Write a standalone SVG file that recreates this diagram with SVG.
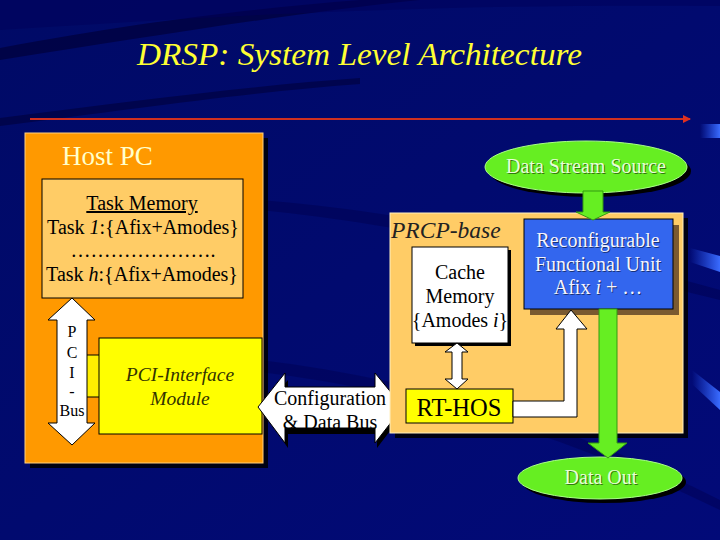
<svg xmlns="http://www.w3.org/2000/svg" width="720" height="540" viewBox="0 0 720 540" font-family="'Liberation Serif', 'DejaVu Serif', serif">
<style>
text{font-family:'Liberation Serif','DejaVu Serif',serif;}
.dark{fill:#000000;}
.sh{fill:#000000;opacity:0.85;}
.box{stroke:#000;stroke-width:1;}
.wa{fill:#ffffff;stroke:#000;stroke-width:1;}
.ga{fill:#66ee22;stroke:#339911;stroke-width:1;}
</style>
<defs>
<linearGradient id="bg" x1="0" y1="0" x2="1" y2="1">
<stop offset="0" stop-color="#000a66"/>
<stop offset="1" stop-color="#020a78"/>
</linearGradient>
<linearGradient id="stripe" x1="0" y1="0" x2="1" y2="0">
<stop offset="0" stop-color="#2a5cff" stop-opacity="0"/>
<stop offset="1" stop-color="#3a6cff"/>
</linearGradient>
<marker id="redArr" markerWidth="8" markerHeight="8" refX="7" refY="4" orient="auto" markerUnits="userSpaceOnUse">
<path d="M0,0 L8,4 L0,8 z" fill="#e03020"/>
</marker>
</defs>
<rect width="720" height="540" fill="url(#bg)"/>
<path d="M0,48 C150,20 260,8 360,0 L420,0 C300,12 160,35 0,60 z" fill="#00003a" opacity="0.7"/>
<path d="M0,118 C140,100 260,85 360,78 L360,84 C250,92 140,108 0,126 z" fill="#00003a" opacity="0.6"/>
<path d="M0,0 L720,0 L720,6 C500,4 300,10 0,30 z" fill="#00005a" opacity="0.5"/>
<path d="M260,200 C380,210 500,230 720,290 L720,300 C500,245 380,222 260,210 z" fill="#000050" opacity="0.5"/>
<path d="M260,360 C420,380 560,420 720,500 L720,510 C560,432 420,392 260,372 z" fill="#000050" opacity="0.45"/>
<rect x="700" y="124" width="20" height="14" fill="url(#stripe)"/>
<path d="M690,248 L720,256 L720,272 L690,262 z" fill="url(#stripe)"/>
<path d="M692,370 L720,392 L720,410 L692,384 z" fill="url(#stripe)"/>

<text x="137" y="65" font-size="31" font-style="italic" fill="#ffff33" textLength="445" lengthAdjust="spacingAndGlyphs">DRSP: System Level Architecture</text>
<line x1="30" y1="119" x2="690" y2="119" stroke="#d03020" stroke-width="2" marker-end="url(#redArr)"/>

<g id="host-pc">
<rect x="30" y="138" width="238" height="330" class="sh"/>
<rect x="25" y="133" width="238" height="330" fill="#ff9900" stroke="#ffd080" stroke-width="1"/>
<text x="62" y="165" font-size="27" fill="#ffffcc">Host PC</text>
</g>

<g id="task-memory">
<rect x="42" y="179" width="201" height="119" fill="#ffcc66" class="box"/>
<text class="dark" x="142" y="210" font-size="20" text-anchor="middle" text-decoration="underline">Task Memory</text>
<text class="dark" x="143" y="234" font-size="20" text-anchor="middle">Task <tspan font-style="italic">1</tspan>:{Afix+Amodes}</text>
<text class="dark" x="143" y="257" font-size="20" text-anchor="middle">………………….</text>
<text class="dark" x="142" y="281" font-size="20" text-anchor="middle">Task <tspan font-style="italic">h</tspan>:{Afix+Amodes}</text>
</g>

<g id="pci-interface">
<rect x="86" y="355" width="14" height="42" fill="#ffee00" class="box"/>
<rect x="99" y="338" width="163" height="96" fill="#ffff00" class="box"/>
<text x="180" y="381" font-size="19.5" font-style="italic" text-anchor="middle" fill="#333300">PCI-Interface</text>
<text x="180" y="405" font-size="19.5" font-style="italic" text-anchor="middle" fill="#333300">Module</text>
</g>

<g id="cfg-bus">
<path d="M261,410 L288,380 L288,393 L377,393 L377,380 L406,410 L377,448 L377,434 L288,434 L288,448 z" fill="#000"/>
<path d="M258,407 L285,373 L285,387 L375,387 L375,373 L403,407 L375,443 L375,428 L285,428 L285,443 z" class="wa"/>
<text class="dark" x="330" y="405" font-size="20" text-anchor="middle">Configuration</text>
<text class="dark" x="330" y="429" font-size="20" text-anchor="middle">&amp; Data Bus</text>
</g>

<g id="prcp-base">
<rect x="395" y="218" width="293" height="220" class="sh"/>
<rect x="390" y="213" width="293" height="220" fill="#ffcc66" stroke="#fff0c0" stroke-width="1"/>
<text x="391" y="238" font-size="23.5" font-style="italic" fill="#222">PRCP-base</text>
</g>

<g id="cache-memory">
<rect x="415" y="250" width="96" height="96" fill="#000"/>
<rect x="412" y="247" width="96" height="96" fill="#ffffff" class="box"/>
<text class="dark" x="460" y="279" font-size="20" text-anchor="middle">Cache</text>
<text class="dark" x="460" y="303" font-size="20" text-anchor="middle">Memory</text>
<text class="dark" x="460" y="327" font-size="20" text-anchor="middle">{Amodes <tspan font-style="italic">i</tspan>}</text>
</g>

<g id="rt-hos">
<rect x="406" y="389" width="107" height="34" fill="#ffff00" class="box"/>
<text class="dark" x="459" y="416" font-size="24.5" text-anchor="middle">RT-HOS</text>
</g>

<g id="rfu">
<rect x="530" y="225" width="149" height="90" fill="#7a5a30"/>
<rect x="524" y="219" width="149" height="90" fill="#3366ee" class="box"/>
<text x="599" y="248" font-size="20" text-anchor="middle" fill="#000" opacity="0.5">Reconfigurable</text>
<text x="598" y="247" font-size="20" text-anchor="middle" fill="#f4f4ff">Reconfigurable</text>
<text x="599" y="272" font-size="20" text-anchor="middle" fill="#000" opacity="0.5">Functional Unit</text>
<text x="598" y="271" font-size="20" text-anchor="middle" fill="#f4f4ff">Functional Unit</text>
<text x="599" y="295" font-size="20" text-anchor="middle" fill="#000" opacity="0.5">Afix <tspan font-style="italic">i</tspan> + …</text>
<text x="598" y="294" font-size="20" text-anchor="middle" fill="#f4f4ff">Afix <tspan font-style="italic">i</tspan> + …</text>
</g>

<g id="data-stream-source">
<ellipse cx="590" cy="171" rx="101" ry="26" fill="#000"/>
<ellipse cx="586" cy="167" rx="101" ry="26" fill="#66ee22" stroke="#aaff88" stroke-width="1"/>
<text x="587" y="174" font-size="20" text-anchor="middle" fill="#000" opacity="0.5">Data Stream Source</text>
<text x="586" y="173" font-size="20" text-anchor="middle" fill="#e8ffd8">Data Stream Source</text>
</g>

<g id="data-out">
<ellipse cx="604" cy="482" rx="82" ry="21" fill="#000"/>
<ellipse cx="600" cy="478" rx="82" ry="21" fill="#66ee22" stroke="#aaff88" stroke-width="1"/>
<text x="602" y="485" font-size="20" text-anchor="middle" fill="#000" opacity="0.5">Data Out</text>
<text x="601" y="484" font-size="20" text-anchor="middle" fill="#e8ffd8">Data Out</text>
</g>

<g id="connectors">
<path d="M72,298 L95,320 L87,320 L87,423 L95,423 L72,445 L48,423 L57,423 L57,320 L48,320 z" class="wa"/>
<text class="dark" x="72" y="337" font-size="16" text-anchor="middle">P</text>
<text class="dark" x="72" y="358" font-size="16" text-anchor="middle">C</text>
<text class="dark" x="72" y="378" font-size="16" text-anchor="middle">I</text>
<text class="dark" x="72" y="397" font-size="16" text-anchor="middle">-</text>
<text class="dark" x="72" y="416" font-size="16" text-anchor="middle">Bus</text>
<path d="M457,343 L468,352 L462,352 L462,379 L468,379 L457,389 L445,379 L452,379 L452,352 L445,352 z" class="wa"/>
<path d="M513,401 L564,401 L564,329 L556,329 L571,310 L587,329 L577,329 L577,417 L513,417 z" class="wa"/>
<path d="M583,191 L603,191 L603,212 L610,212 L593,220 L576,212 L583,212 z" class="ga"/>
<path d="M599,309 L617,309 L617,443 L627,443 L608,458 L588,443 L599,443 z" class="ga"/>
</g>
</svg>
